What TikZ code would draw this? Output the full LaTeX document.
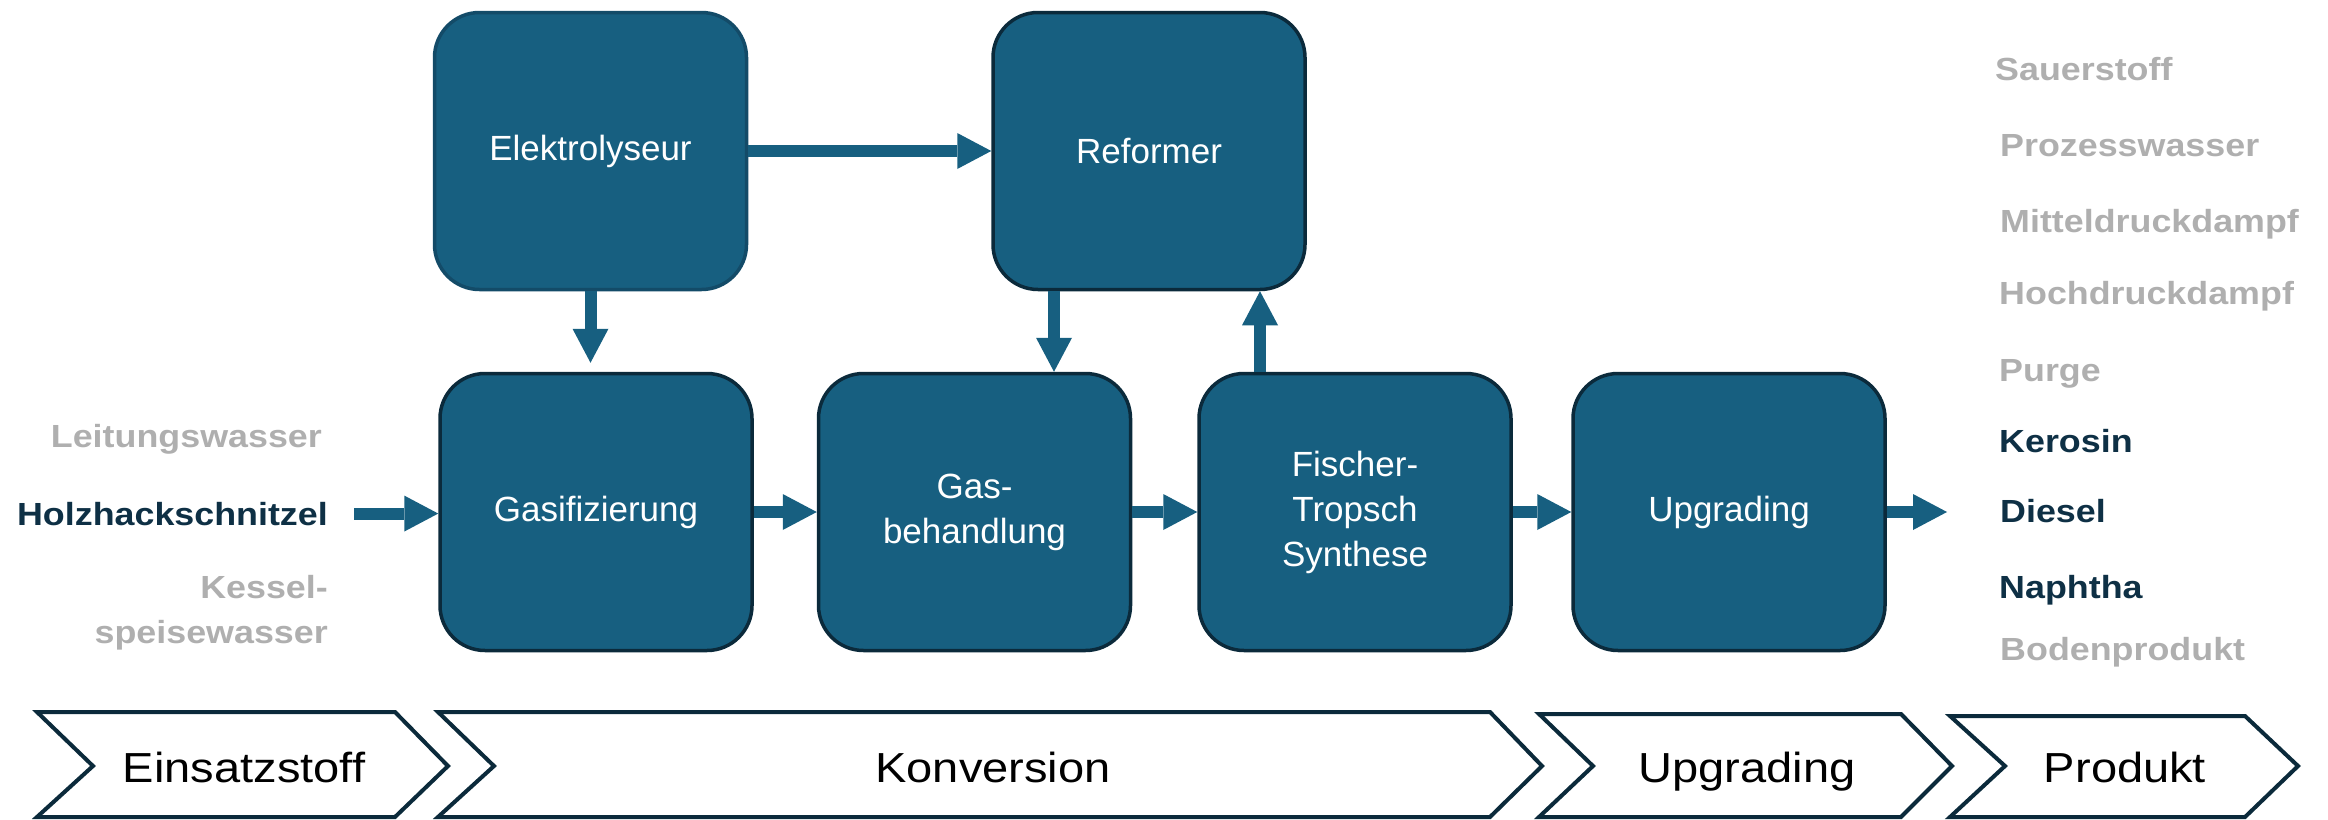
\documentclass[tikz,border=0pt]{standalone}
\usepackage{fontspec}
\setmainfont{Liberation Sans}
\newfontfamily\widefont[FakeStretch=1.12]{Liberation Sans}
\usepackage{xcolor}
\usepackage{tikz}
\usetikzlibrary{arrows.meta,calc}
\definecolor{procblue}{HTML}{175F80}
\definecolor{procline}{HTML}{0B2A3B}
\definecolor{elekline}{HTML}{134B68}
\definecolor{stoffgrau}{HTML}{AFAFAF}
\definecolor{stoffnavy}{HTML}{0E3045}
\definecolor{stufeline}{HTML}{0B2A3B}

\begin{document}
\begin{tikzpicture}[x=1pt,y=-1pt,
	proc/.style={draw=procline, line width=3.5pt, fill=procblue, rounded corners=45pt,
		minimum width=312pt, minimum height=277pt, inner sep=0pt,
		text=white, align=center, font=\fontsize{35}{45}\selectfont},
	flow/.style={draw=procblue, line width=12pt,
		-{Triangle[length=34pt,width=36pt,line width=0pt]}},
	stoff/.style={inner sep=0pt, font=\widefont\bfseries\fontsize{32}{38}\selectfont},
	stufe/.style={draw=stufeline, line width=4pt, line join=miter},
	stufetext/.style={inner sep=0pt, anchor=base, font=\widefont\fontsize{42}{50}\selectfont}]
	\useasboundingbox (0,0) rectangle (2328,819);
	% Prozessbloecke
	\node [proc, draw=elekline] (elek) at (590.5,151) {Elektrolyseur};
	\node [proc] (ref) at (1149,151) {Reformer};
	\node [proc] (gas) at (596,512) {Gasifizierung};
	\node [proc] (beh) at (974.5,512) {Gas-\\behandlung};
	\node [proc] (ft) at (1355,512) {Fischer-\\Tropsch\\Synthese};
	\node [proc] (upg) at (1729,512) {Upgrading};
	% Einsatzstoffe
	\node [stoff, text=stoffgrau, anchor=base east] (lwasser) at (322,447) {Leitungswasser};
	\node [stoff, text=stoffnavy, anchor=base east] (holz) at (328,525) {Holzhackschnitzel};
	\node [stoff, text=stoffgrau, anchor=base east] (kessel) at (328,598) {Kessel-};
	\node [stoff, text=stoffgrau, anchor=base east] (speise) at (328,643) {speisewasser};
	% Produkte
	\node [stoff, text=stoffgrau, anchor=base west] (sauer) at (1995,80) {Sauerstoff};
	\node [stoff, text=stoffgrau, anchor=base west] (prozess) at (2000,156) {Prozesswasser};
	\node [stoff, text=stoffgrau, anchor=base west] (mittel) at (2000,232) {Mitteldruckdampf};
	\node [stoff, text=stoffgrau, anchor=base west] (hoch) at (1999,304) {Hochdruckdampf};
	\node [stoff, text=stoffgrau, anchor=base west] (purge) at (1999,381) {Purge};
	\node [stoff, text=stoffnavy, anchor=base west] (kerosin) at (1999,452) {Kerosin};
	\node [stoff, text=stoffnavy, anchor=base west] (diesel) at (2000,522) {Diesel};
	\node [stoff, text=stoffnavy, anchor=base west] (naphtha) at (1999,598) {Naphtha};
	\node [stoff, text=stoffgrau, anchor=base west] (boden) at (2000,660) {Bodenprodukt};
	% Stroeme
	\coordinate (prodin) at (1947,512);
	\draw [flow] ([xshift=26pt]holz.east -| holz.east) -- (holz.east -| gas.west);
	\draw [flow] (gas.east) -- (beh.west);
	\draw [flow] (beh.east) -- (ft.west);
	\draw [flow] (ft.east) -- (upg.west);
	\draw [flow] (upg.east) -- (prodin);
	\draw [flow] (elek.east) -- (ref.west);
	\draw [flow] (elek.south) -- ($(elek.south |- gas.north)+(0,-9)$);
	\draw [flow] ([xshift=-95pt]ref.south) -- ([xshift=-95pt]ref.south |- beh.north);
	\draw [flow] ([xshift=-95pt]ft.north) -- ([xshift=-95pt]ft.north |- ref.south);
	% Prozessstufen
	\draw [stufe] (37,712) -- (395,712) -- (448,766) -- (395,817) -- (37,817) -- (93,766) -- cycle;
	\draw [stufe] (438,712) -- (1490,712) -- (1542,766) -- (1490,817) -- (438,817) -- (494,766) -- cycle;
	\draw [stufe] (1539,714) -- (1901,714) -- (1952,766) -- (1901,817) -- (1539,817) -- (1593,766) -- cycle;
	\draw [stufe] (1950,716) -- (2245,716) -- (2298,766) -- (2245,817) -- (1950,817) -- (2005,766) -- cycle;
	\node [stufetext] (einsatz) at (244,782) {Einsatzstoff};
	\node [stufetext] (konv) at (993,782) {Konversion};
	\node [stufetext] (upgstufe) at (1747,782) {Upgrading};
	\node [stufetext] (produkt) at (2125,782) {Produkt};
\end{tikzpicture}
\end{document}
